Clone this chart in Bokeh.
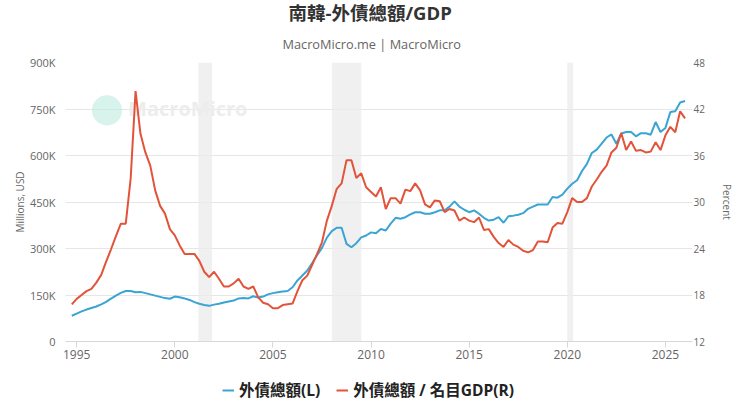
from bokeh.plotting import figure
from bokeh.layouts import column
from bokeh.models import (Range1d, LinearAxis, FixedTicker, CustomJSTickFormatter,
                          BoxAnnotation, Legend, LegendItem, Title, Label, ColumnDataSource)
from bokeh.embed import file_html
from bokeh.resources import INLINE

# ---------------- data (quarterly, quarter-end decimal years) ----------------
first_quarter = (1994, 3)   # 1994Q3
# Total external debt, thousands of millions USD (i.e. "K" on the axis)
debt_k = [
    83,                      # 1994Q3
    90, 97, 103, 108,        # 1994Q4-1995Q3
    113, 120, 128, 138,
    148, 157, 163, 163,
    159, 160, 156, 152,
    148, 144, 140, 138,
    145, 143, 139, 134,
    127, 122, 118, 115,
    119, 122, 126, 129,
    132, 139, 140, 139,
    146, 142, 145, 152,
    156, 159, 161, 163,
    175, 197, 213, 229,
    253, 278, 302, 335,
    356, 367, 367, 315,
    304, 317, 336, 342,
    352, 349, 363, 358,
    380, 399, 396, 401,
    410, 417, 417, 412,
    412, 417, 423, 423,
    435, 452, 435, 425,
    417, 423, 412, 399,
    390, 393, 401, 383,
    404, 406, 409, 414,
    428, 435, 442, 442,
    442, 466, 464, 474,
    493, 509, 520, 550,
    573, 608, 619, 638,
    658, 668, 638, 671,
    676, 676, 662, 672,
    672, 667, 708, 676,
    689, 740, 743, 771,
    776,
]
# Total external debt / nominal GDP, percent
ratio_pct = [
    16.8,
    17.5, 18.0, 18.5, 18.8,
    19.6, 20.6, 22.3, 23.9,
    25.6, 27.2, 27.2, 33.0,
    44.3, 38.8, 36.4, 34.7,
    31.5, 29.5, 28.5, 26.5,
    25.7, 24.4, 23.3, 23.3,
    23.3, 22.4, 21.0, 20.3,
    21.0, 20.1, 19.1, 19.1,
    19.5, 20.1, 19.1, 18.8,
    19.1, 17.7, 17.0, 16.8,
    16.3, 16.3, 16.7, 16.8,
    16.9, 18.5, 19.9, 20.5,
    21.9, 23.3, 24.8, 27.6,
    29.5, 31.7, 32.4, 35.4,
    35.4, 33.1, 33.7, 31.9,
    31.3, 30.7, 31.9, 29.1,
    30.5, 30.5, 29.8, 31.6,
    31.4, 32.4, 31.5, 29.7,
    29.3, 30.2, 30.1, 28.7,
    29.1, 28.9, 27.6, 28.0,
    27.6, 27.4, 28.0, 26.4,
    26.5, 25.5, 24.7, 24.2,
    25.1, 24.5, 24.2, 23.7,
    23.5, 23.8, 24.9, 24.9,
    24.8, 26.7, 27.3, 27.2,
    28.7, 30.5, 30.0, 30.0,
    30.5, 32.0, 32.9, 33.9,
    34.7, 36.4, 37.0, 38.9,
    36.7, 37.8, 36.6, 36.7,
    36.4, 36.5, 37.7, 36.7,
    38.6, 39.7, 39.0, 41.7,
    40.8,
]
recessions = [(2001.2, 2001.9), (2008.0, 2009.5), (2020.0, 2020.3)]
x_ticks = [1995, 2000, 2005, 2010, 2015, 2020, 2025]
left_ticks = [0, 150, 300, 450, 600, 750, 900]
right_ticks = [12, 18, 24, 30, 36, 42, 48]

title_text = "南韓-外債總額/GDP"
subtitle_text = "MacroMicro.me | MacroMicro"
series_names = ["外債總額(L)", "外債總額 / 名目GDP(R)"]

BLUE = "#3aa4d2"
RED = "#e2533a"
GRID = "#e6e6e6"
TICK_TXT = "#666666"
FONT = "Open Sans"
MIXED = "Open Sans, Noto Sans CJK TC"

y0, q0 = first_quarter
years = [y0 + (q0 + i) / 4 for i in range(len(debt_k))]
src = ColumnDataSource(dict(x=years, debt=debt_k, ratio=ratio_pct))

p = figure(width=740, height=380, output_backend="svg", toolbar_location=None,
           x_range=Range1d(1994.43, 2026.38), y_range=Range1d(0, 900),
           title=None, min_border_left=65, min_border_right=48,
           min_border_top=62, min_border_bottom=39)
p.outline_line_color = None
p.background_fill_color = "white"
p.border_fill_color = "white"

p.extra_y_ranges = {"pct": Range1d(12, 48)}

# recession bands
for a, b in recessions:
    p.add_layout(BoxAnnotation(left=a, right=b, fill_color="#ebebeb", fill_alpha=0.75,
                               line_color=None, level="underlay"))

# watermark
p.add_layout(BoxAnnotation(left=1995.78, right=1997.31, bottom=697, top=794,
                           border_radius=15, fill_color="#bdebdf", fill_alpha=0.6,
                           line_color=None, level="underlay"))
p.add_layout(Label(x=1997.62, y=707, text="MacroMicro", text_font=FONT,
                   text_font_style="bold", text_font_size="20px",
                   text_color="#ededed", level="underlay"))

r_blue = p.line("x", "debt", source=src, color=BLUE, line_width=2)
r_red = p.line("x", "ratio", source=src, color=RED, line_width=2, y_range_name="pct")

# axes
p.xaxis.ticker = FixedTicker(ticks=x_ticks)
p.xaxis.axis_line_color = "#d8d8d8"
p.xaxis.major_tick_line_color = "#d8d8d8"
p.xaxis.major_tick_out = 6
p.xaxis.major_tick_in = 0
p.xaxis.minor_tick_line_color = None
p.xaxis.major_label_text_font = FONT
p.xaxis.major_label_text_font_size = "12px"
p.xaxis.major_label_text_color = TICK_TXT
p.xaxis.major_label_standoff = 2
p.xgrid.grid_line_color = None

p.yaxis.ticker = FixedTicker(ticks=left_ticks)
p.yaxis.formatter = CustomJSTickFormatter(code="return tick == 0 ? '0' : tick + 'K';")
p.yaxis.axis_line_color = None
p.yaxis.major_tick_line_color = None
p.yaxis.major_tick_out = 0
p.yaxis.major_tick_in = 0
p.yaxis.minor_tick_line_color = None
p.yaxis.minor_tick_out = 0
p.yaxis.major_label_text_font = FONT
p.yaxis.major_label_text_font_size = "11px"
p.yaxis.major_label_text_color = TICK_TXT
p.yaxis.major_label_standoff = 10
p.yaxis.axis_label = "Millions, USD"
p.yaxis.axis_label_text_font = FONT
p.yaxis.axis_label_text_font_size = "10px"
p.yaxis.axis_label_text_font_style = "normal"
p.yaxis.axis_label_text_color = TICK_TXT
p.yaxis.axis_label_standoff = 0
p.ygrid.ticker = FixedTicker(ticks=left_ticks)
p.ygrid.grid_line_color = GRID

ax_r = LinearAxis(y_range_name="pct", ticker=FixedTicker(ticks=right_ticks),
                  axis_label="Percent")
ax_r.axis_line_color = None
ax_r.major_tick_line_color = None
ax_r.major_tick_out = 0
ax_r.major_tick_in = 0
ax_r.minor_tick_line_color = None
ax_r.minor_tick_out = 0
ax_r.major_label_text_font = FONT
ax_r.major_label_text_font_size = "10px"
ax_r.major_label_text_color = TICK_TXT
ax_r.major_label_standoff = 1
ax_r.axis_label_text_font = FONT
ax_r.axis_label_text_font_size = "10px"
ax_r.axis_label_text_font_style = "normal"
ax_r.axis_label_text_color = TICK_TXT
ax_r.axis_label_standoff = 12
p.add_layout(ax_r, "right")

# titles (left-aligned with an offset so that they sit at the page centre)
p.add_layout(Title(text=subtitle_text, align="left", text_font=FONT,
                   text_font_size="12.75px", text_font_style="normal",
                   text_color="#666666", standoff=20, offset=217), "above")
p.add_layout(Title(text=title_text, align="left", text_font=MIXED,
                   text_font_size="18.5px", text_font_style="bold",
                   text_color="#333333", standoff=-5, offset=223), "above")

# legend strip below the chart (hidden copies of the two series provide the swatches)
leg = figure(width=740, height=36, output_backend="svg", toolbar_location=None,
             x_range=Range1d(1994.43, 2026.38), y_range=Range1d(0, 900),
             x_axis_location=None, y_axis_location=None,
             min_border=0, title=None)
leg.outline_line_color = None
leg.xgrid.grid_line_color = None
leg.ygrid.grid_line_color = None
lb = leg.line(years, debt_k, color=BLUE, line_width=2, visible=False)
lr = leg.line(years, ratio_pct, color=RED, line_width=2, visible=False)
legend = Legend(items=[LegendItem(label=series_names[0], renderers=[lb]),
                       LegendItem(label=series_names[1], renderers=[lr])],
                orientation="horizontal", location=(157, 15),
                label_text_font=MIXED, label_text_font_style="bold",
                label_text_font_size="15.5px", label_text_color="#222222",
                glyph_width=12, glyph_height=14, label_standoff=5, spacing=16,
                border_line_color=None, background_fill_alpha=0,
                padding=2, margin=0)
leg.add_layout(legend, "center")

layout = column(p, leg, spacing=0)
open("out.html", "w").write(file_html(layout, INLINE))
